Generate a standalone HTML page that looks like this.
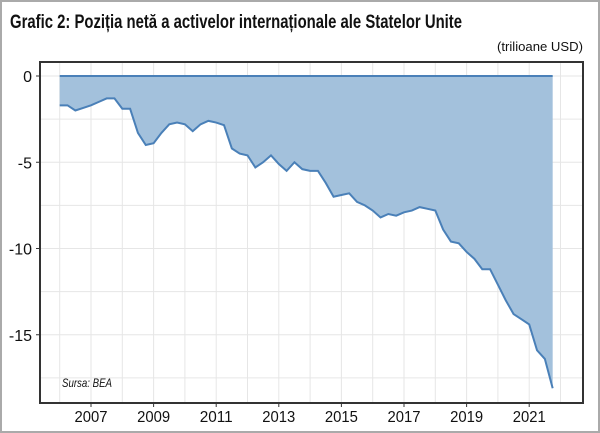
<!DOCTYPE html>
<html><head><meta charset="utf-8"><style>
html,body{margin:0;padding:0;background:#fff}
svg{display:block;font-family:"Liberation Sans",sans-serif}
</style></head><body>
<svg width="600" height="433" viewBox="0 0 600 433">
<rect x="1" y="1" width="598" height="431" fill="#fff" stroke="#aaa" stroke-width="2"/>
<text x="10" y="28" font-size="19" font-weight="bold" textLength="452" lengthAdjust="spacingAndGlyphs" fill="#111">Grafic 2: Poziția netă a activelor internaționale ale Statelor Unite</text>
<text x="583" y="51" font-size="13" text-anchor="end" textLength="86" lengthAdjust="spacingAndGlyphs" fill="#111">(trilioane USD)</text>
<g id="grid"></g>
<g id="plot"></g>
<rect x="40" y="62" width="543" height="341" fill="none" stroke="#333" stroke-width="2"/>
<g id="axes"></g>
<text x="62" y="387" font-size="12" font-style="italic" textLength="50" lengthAdjust="spacingAndGlyphs" fill="#111">Sursa: BEA</text>
</svg>
<script>
const startYear = 2006;
const values = [-1.7,-1.7,-2.0,-1.85,-1.7,-1.5,-1.3,-1.3,-1.9,-1.9,-3.3,-4.0,-3.9,-3.3,-2.8,-2.7,
-2.8,-3.2,-2.8,-2.6,-2.7,-2.85,-4.2,-4.5,-4.6,-5.3,-5.0,-4.6,-5.1,-5.5,-5.0,-5.4,
-5.5,-5.5,-6.2,-7.0,-6.9,-6.8,-7.3,-7.5,-7.8,-8.2,-8.0,-8.1,-7.9,-7.8,-7.6,-7.7,
-7.8,-8.9,-9.6,-9.7,-10.2,-10.6,-11.2,-11.2,-12.1,-13.0,-13.8,-14.1,-14.4,-15.9,-16.4,-18.1];
const yTicks = [0,-5,-10,-15];
const xTicks = [2007,2009,2011,2013,2015,2017,2019,2021];
const NS="http://www.w3.org/2000/svg";
const x = t => 91 + (t-2007)*31.3;
const y = v => 76 - v*17.25;
function mk(tag,attrs,parent){const e=document.createElementNS(NS,tag);for(const k in attrs)e.setAttribute(k,attrs[k]);parent.appendChild(e);return e;}
const grid=document.getElementById('grid'),plot=document.getElementById('plot'),axes=document.getElementById('axes');
for(let t=2006;t<=2022;t+=1){const l=mk('line',{x1:x(t),x2:x(t),y1:62,y2:403,stroke:'#e6e6e6','stroke-width':1},grid);

}
for(let v=0;v>=-19;v-=2.5){const l=mk('line',{x1:40,x2:583,y1:y(v),y2:y(v),stroke:'#e6e6e6','stroke-width':1},grid);

}
const pts=values.map((v,i)=>[x(startYear+i/4),y(v)]);
let d='M'+x(startYear)+','+y(0)+' '+pts.map(p=>'L'+p[0]+','+p[1]).join(' ')+' L'+x(startYear+(values.length-1)/4)+','+y(0)+'Z';
const area=mk('path',{d:d,fill:'#a3c1dc'},plot);


const line=mk('polyline',{points:pts.map(p=>p.join(',')).join(' '),fill:'none',stroke:'#4a80b8','stroke-width':2},plot);


const zl=mk('line',{x1:x(startYear),x2:x(startYear+(values.length-1)/4),y1:y(0),y2:y(0),stroke:'#4a80b8','stroke-width':2},plot);


yTicks.forEach(v=>{const t=mk('text',{x:32,y:y(v)+6,'font-size':16,'text-anchor':'end',fill:'#111'},axes);t.textContent=String(v).replace('-','-');


const k=mk('line',{x1:36,x2:40,y1:y(v),y2:y(v),stroke:'#333'},axes);

});
xTicks.forEach(v=>{const t=mk('text',{x:x(v),y:422,'font-size':16,'text-anchor':'middle',textLength:33,lengthAdjust:'spacingAndGlyphs',fill:'#111'},axes);t.textContent=v;


const k=mk('line',{x1:x(v),x2:x(v),y1:403,y2:407,stroke:'#333'},axes);

});
</script>
</body></html>
